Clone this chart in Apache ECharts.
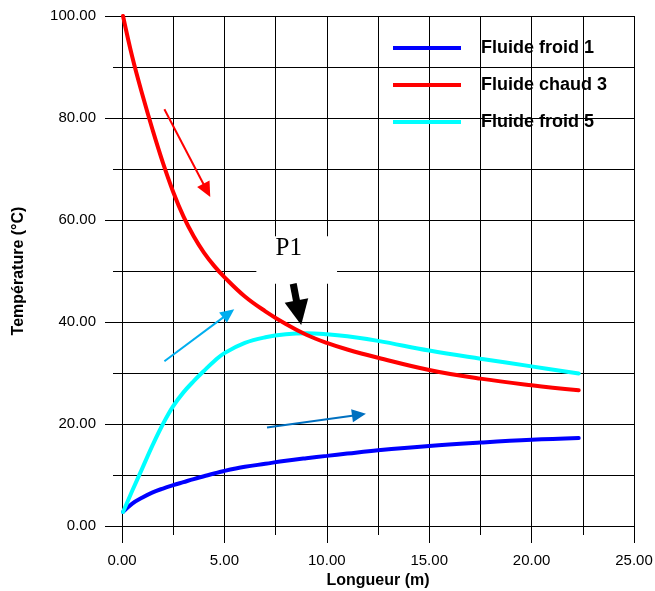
<!DOCTYPE html>
<html>
<head>
<meta charset="utf-8">
<script src="https://cdn.jsdelivr.net/npm/echarts@6/dist/echarts.min.js"></script>
<style>
html,body{margin:0;padding:0;background:#fff;}
#chart{width:655px;height:591px;}
</style>
</head>
<body>
<div id="chart"></div>
<script>
// ---- data ----
const seriesNames = ['Fluide froid 1', 'Fluide chaud 3', 'Fluide froid 5'];
const xValues = [0.05, 0.5, 1, 1.5, 2, 2.5, 3, 3.5, 4, 4.5, 5, 6, 7, 8, 9, 10, 11, 12.5, 15, 17.5, 20, 22.3];
const froid1 = [2.75, 4.4, 5.6, 6.6, 7.35, 8.0, 8.6, 9.2, 9.75, 10.3, 10.8, 11.6, 12.2, 12.8, 13.3, 13.75, 14.2, 14.85, 15.7, 16.35, 16.9, 17.25];
const chaud3 = [100, 92, 84.5, 77.6, 71.2, 65.5, 60.7, 56.8, 53.6, 51.0, 48.8, 45.0, 42.1, 39.6, 37.5, 35.9, 34.6, 33.0, 30.6, 28.9, 27.6, 26.6];
const froid5 = [2.75, 6.9, 11.4, 15.9, 20.0, 23.5, 26.2, 28.4, 30.4, 32.3, 33.9, 35.9, 37.0, 37.6, 37.8, 37.6, 37.2, 36.3, 34.4, 32.8, 31.3, 29.9];
const xTicks = [0, 5, 10, 15, 20, 25];
const yTicks = [0, 20, 40, 60, 80, 100];
// annotation arrows (data units): start and tip
const arrowFrom = [[2.07, 81.7], [2.07, 32.3], [7.08, 19.3], [8.36, 47.5]];
const arrowTo = [[4.31, 64.5], [5.48, 42.5], [11.91, 22.0], [8.75, 39.4]];
// P1 label box (data units) and label
const p1Box = [6.56, 56.8, 10.5, 47.5];
const p1Label = ['P1', 8.14, 54.4];

// ---- styles ----
const lineColors = ['#0000FF', '#FF0000', '#00FFFF'];
const arrowStyles = [
  {color: '#FF0000', width: 2, headLen: 15, headW: 14},
  {color: '#00AEEF', width: 2, headLen: 14, headW: 13},
  {color: '#0070C0', width: 2, headLen: 14, headW: 13},
  {color: '#000000', width: 7, headLen: 25, headW: 24}
];

function pairs(ys) { return xValues.map((x, i) => [x, ys[i]]); }

const chart = echarts.init(document.getElementById('chart'), null, {renderer: 'canvas'});
const axisCommon = {
  type: 'value',
  axisLine: {show: true, onZero: false, lineStyle: {color: '#000', width: 1}},
  axisTick: {show: true, inside: false, length: 17, lineStyle: {color: '#000', width: 1}},
  minorTick: {show: true, splitNumber: 2, length: 9, lineStyle: {color: '#000', width: 1}},
  splitLine: {show: true, lineStyle: {color: '#000', width: 1}},
  minorSplitLine: {show: true, lineStyle: {color: '#000', width: 1}},
  axisLabel: {color: '#000', fontSize: 15, fontFamily: 'Liberation Sans', margin: 26,
    formatter: v => v.toFixed(2)},
  nameTextStyle: {color: '#000', fontSize: 16, fontWeight: 'bold', fontFamily: 'Liberation Sans'}
};

const lineCommon = {type: 'line', smooth: 0.4, showSymbol: false, z: 2};

const option = {
  animation: false,
  backgroundColor: '#fff',
  textStyle: {fontFamily: 'Liberation Sans'},
  grid: {left: 122, top: 16, width: 512, height: 510, containLabel: false, outerBoundsMode: 'none'},
  legend: {
    data: seriesNames,
    orient: 'vertical',
    left: 393, top: 39, padding: 0,
    itemWidth: 68, itemHeight: 4, itemGap: 19,
    icon: 'rect',
    textStyle: {fontSize: 18, fontWeight: 'bold', color: '#000', lineHeight: 18,
      fontFamily: 'Liberation Sans', padding: [0, 0, 0, 15]}
  },
  xAxis: Object.assign({}, axisCommon, {
    min: xTicks[0], max: xTicks[xTicks.length - 1], interval: xTicks[1] - xTicks[0],
    name: 'Longueur (m)', nameLocation: 'middle', nameGap: 45,
    axisLabel: Object.assign({}, axisCommon.axisLabel, {margin: 27})
  }),
  yAxis: Object.assign({}, axisCommon, {
    min: yTicks[0], max: yTicks[yTicks.length - 1], interval: yTicks[1] - yTicks[0],
    name: 'Température (°C)', nameLocation: 'middle', nameRotate: 90, nameGap: 95
  }),
  series: [
    {
      type: 'custom', name: 'box', silent: true, clip: false, z: 1,
      data: [p1Box],
      renderItem: function (params, api) {
        const a = api.coord([api.value(0), api.value(1)]);
        const b = api.coord([api.value(2), api.value(3)]);
        return {type: 'rect', shape: {x: a[0], y: a[1], width: b[0] - a[0], height: b[1] - a[1]},
          style: {fill: '#fff'}};
      }
    },
    {
      type: 'custom', name: 'label', silent: true, clip: false, z: 3,
      data: [[p1Label[1], p1Label[2]]],
      renderItem: function (params, api) {
        const p = api.coord([api.value(0), api.value(1)]);
        return {type: 'text', x: p[0], y: p[1],
          style: {text: p1Label[0], fill: '#000', font: '25px "Liberation Serif"',
            align: 'center', verticalAlign: 'middle'}};
      }
    },
    Object.assign({}, lineCommon, {name: seriesNames[0], data: pairs(froid1),
      color: lineColors[0], lineStyle: {width: 4, color: lineColors[0], cap: 'round'}}),
    Object.assign({}, lineCommon, {name: seriesNames[2], data: pairs(froid5),
      color: lineColors[2], lineStyle: {width: 4, color: lineColors[2], cap: 'round'}}),
    Object.assign({}, lineCommon, {name: seriesNames[1], data: pairs(chaud3),
      color: lineColors[1], lineStyle: {width: 4, color: lineColors[1], cap: 'round'}}),
    {
      type: 'custom', name: 'arrows', silent: true, clip: false, z: 4,
      data: arrowFrom.map((f, i) => [f[0], f[1], arrowTo[i][0], arrowTo[i][1]]),
      renderItem: function (params, api) {
        const st = arrowStyles[params.dataIndex];
        const s = api.coord([api.value(0), api.value(1)]);
        const t = api.coord([api.value(2), api.value(3)]);
        const dx = t[0] - s[0], dy = t[1] - s[1];
        const L = Math.sqrt(dx * dx + dy * dy);
        const ux = dx / L, uy = dy / L, nx = -uy, ny = ux;
        const bx = t[0] - ux * st.headLen, by = t[1] - uy * st.headLen;
        return {type: 'group', children: [
          {type: 'line', shape: {x1: s[0], y1: s[1], x2: bx + ux * 2, y2: by + uy * 2},
            style: {stroke: st.color, lineWidth: st.width}},
          {type: 'polygon', shape: {points: [[t[0], t[1]],
            [bx + nx * st.headW / 2, by + ny * st.headW / 2],
            [bx - nx * st.headW / 2, by - ny * st.headW / 2]]},
            style: {fill: st.color}}
        ]};
      }
    }
  ]
};
chart.setOption(option);
</script>
</body>
</html>
